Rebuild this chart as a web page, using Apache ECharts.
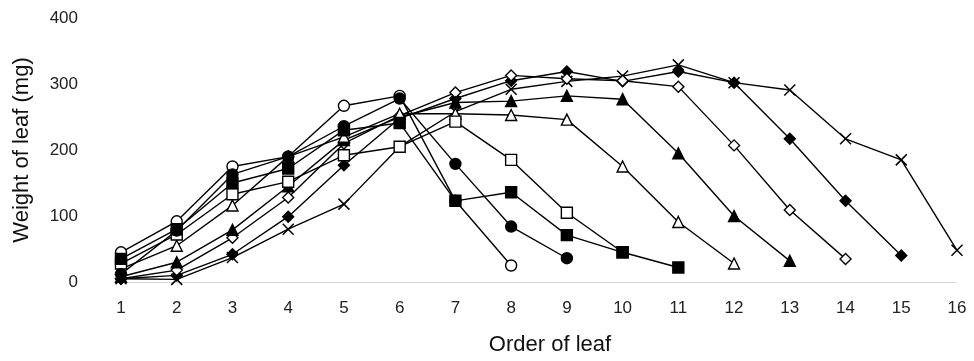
<!DOCTYPE html>
<html>
<head>
<meta charset="utf-8">
<script src="https://cdn.jsdelivr.net/npm/echarts@6/dist/echarts.min.js"></script>
<style>html,body{margin:0;padding:0;background:#fff}#c{width:974px;height:361px}</style>
</head>
<body>
<div id="c"></div>
<script>
// Leaf order (x) and tick labels
const leafOrder = [1,2,3,4,5,6,7,8,9,10,11,12,13,14,15,16];
const yTicks = [0,100,200,300,400];
// Weight of leaf (mg) per sampling, starting at leaf 1
const openCircle     = [45, 92, 175, 190, 267, 282, 123, 25];
const filledCircle   = [12, 78, 163, 190, 236, 278, 179, 84, 36];
const openSquare     = [28, 72, 133, 152, 192, 205, 243, 185, 105, 45];
const filledSquare   = [35, 80, 150, 172, 230, 241, 123, 136, 71, 45, 22];
const openTriangle   = [20, 55, 116, 190, 220, 255, 255, 253, 246, 175, 91, 28];
const filledTriangle = [8, 30, 79, 145, 215, 250, 272, 274, 282, 277, 195, 100, 32];
const openDiamond    = [5, 18, 67, 128, 210, 252, 287, 313, 308, 305, 296, 207, 109, 35];
const filledDiamond  = [5, 10, 42, 99, 177, 248, 278, 305, 319, 304, 319, 302, 217, 123, 40];
const crossSeries    = [5, 4, 37, 80, 118, 205, 258, 292, 304, 312, 329, 302, 291, 217, 185, 48];

const FONT = '"Liberation Sans", Arial, Helvetica, sans-serif';
function mk(vals, symbol, filled, size){
  return {
    type: 'line',
    data: vals.map((v, i) => [leafOrder[i], v]),
    symbol: symbol,
    symbolSize: size,
    showAllSymbol: true,
    lineStyle: {color: '#000', width: 1.4},
    itemStyle: {color: filled ? '#000' : '#fff', borderColor: '#000', borderWidth: 1.4, opacity: 1},
    emphasis: {disabled: true},
    z: 2
  };
}
const crossPath = 'path://M0,0L10,10M0,10L10,0';
const series = [
  mk(crossSeries, crossPath, false, 11),
  mk(filledDiamond, 'diamond', true, 11),
  mk(openDiamond, 'diamond', false, 11),
  mk(filledTriangle, 'triangle', true, 11),
  mk(openTriangle, 'triangle', false, 11),
  mk(openCircle, 'circle', false, 11),
  mk(openSquare, 'rect', false, 11),
  mk(filledCircle, 'circle', true, 11),
  mk(filledSquare, 'rect', true, 11)
];
series[0].itemStyle = {color: '#000', borderColor: '#000', borderWidth: 1.5};

const chart = echarts.init(document.getElementById('c'), null, {renderer: 'canvas'});
chart.setOption({
  animation: false,
  backgroundColor: '#fff',
  grid: {left: 121, right: 17, top: 18, bottom: 74, containLabel: false},
  xAxis: {
    type: 'value', min: leafOrder[0], max: leafOrder[leafOrder.length-1], interval: 1,
    name: 'Order of leaf', nameLocation: 'middle', nameGap: 52,
    nameTextStyle: {fontFamily: FONT, fontSize: 22, color: '#111', padding: [0,0,0,22]},
    axisLine: {show: true, lineStyle: {color: '#d0d0d0', type: 'dotted', width: 1}},
    axisTick: {show: false},
    splitLine: {show: false},
    axisLabel: {fontFamily: FONT, fontSize: 17, color: '#222', margin: 18}
  },
  yAxis: {
    type: 'value', min: yTicks[0], max: yTicks[yTicks.length-1], interval: 100,
    name: 'Weight of leaf (mg)', nameLocation: 'middle', nameGap: 88,
    nameTextStyle: {fontFamily: FONT, fontSize: 22, color: '#111'},
    axisLine: {show: false}, axisTick: {show: false}, splitLine: {show: false},
    axisLabel: {fontFamily: FONT, fontSize: 17, color: '#222', margin: 43}
  },
  series: series
});
</script>
</body>
</html>
